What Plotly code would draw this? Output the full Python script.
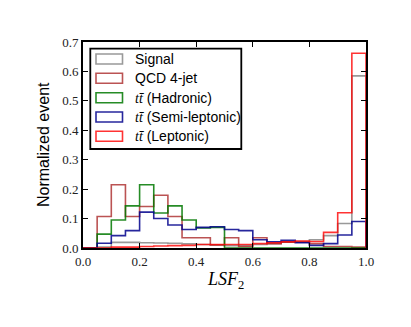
import plotly.graph_objects as go

bin_edges = [round(i * 0.05, 2) for i in range(21)]

signal = [0.0, 0.003, 0.019, 0.019, 0.018, 0.017, 0.016, 0.014, 0.012, 0.010,
          0.008, 0.008, 0.012, 0.015, 0.020, 0.022, 0.028, 0.042, 0.083, 0.585]
qcd = [0.0, 0.107, 0.215, 0.107, 0.141, 0.179, 0.107, 0.035, 0.035, 0.010,
       0.035, 0.005, 0.035, 0.015, 0.020, 0.020, 0.015, 0.005, 0.005, 0.003]
tt_had = [0.0, 0.047, 0.095, 0.143, 0.215, 0.119, 0.143, 0.095, 0.068, 0.070,
          0.0, 0.0, 0.0, 0.0, 0.0, 0.0, 0.0, 0.0, 0.0, 0.0]
tt_semi = [0.0, 0.016, 0.042, 0.059, 0.122, 0.100, 0.078, 0.063, 0.070, 0.072,
           0.063, 0.059, 0.028, 0.021, 0.026, 0.018, 0.009, 0.015, 0.044, 0.090]
tt_lep = [0.0, 0.0, 0.003, 0.003, 0.005, 0.007, 0.008, 0.009, 0.012, 0.012,
          0.012, 0.012, 0.015, 0.018, 0.021, 0.024, 0.022, 0.053, 0.120, 0.662]

TT = "<span style='font-family:Liberation Serif'><i>tt\u0304</i></span>"
names = ["Signal", "QCD 4-jet",
         TT + " (Hadronic)",
         TT + " (Semi-leptonic)",
         TT + " (Leptonic)"]
series = [signal, qcd, tt_had, tt_semi, tt_lep]
colors = ["rgba(128,128,128,0.8)", "rgba(170,40,40,0.8)", "rgba(0,120,0,0.85)",
          "rgba(0,0,140,0.85)", "rgba(255,0,0,0.8)"]

y_ticks = [round(i * 0.1, 1) for i in range(8)]
x_ticks = [round(i * 0.2, 1) for i in range(6)]

fig = go.Figure()
for vals, col, nm in zip(series, colors, names):
    xs = [bin_edges[0]] + bin_edges + [bin_edges[-1]]
    ys = [0.0] + vals + [vals[-1], 0.0]
    fig.add_trace(go.Scatter(x=xs, y=ys, mode="lines", line=dict(shape="hv", color=col, width=1.6),
                             name=nm, showlegend=False, hoverinfo="skip"))

L, R, T, B = 83, 45, 42, 79
W, H = 411, 327
pw, ph = W - L - R, H - T - B

def px_x(p):
    return (p - L) / pw

def px_y(p):
    return 1 - (p - T) / ph

# manual legend (matplotlib style boxes)
fig.add_shape(type="rect", xref="paper", yref="paper",
              x0=px_x(90.3), x1=px_x(241.3), y0=px_y(149), y1=px_y(48.7),
              line=dict(color="black", width=1.8), fillcolor="white", layer="above")
row_y = [59, 78.3, 97.7, 117, 136.3]
for nm, col, ry in zip(names, colors, row_y):
    fig.add_shape(type="rect", xref="paper", yref="paper",
                  x0=px_x(96), x1=px_x(122.5), y0=px_y(ry + 5), y1=px_y(ry - 5),
                  line=dict(color=col, width=1.6), fillcolor="white", layer="above")
    fig.add_annotation(x=px_x(132.5), y=px_y(ry), xref="paper", yref="paper", text=nm,
                       showarrow=False, xanchor="left", yanchor="middle",
                       font=dict(family="Liberation Sans, Arial", size=14, color="black"))

fig.add_annotation(x=px_x(43), y=px_y(145), xref="paper", yref="paper",
                   text="Normalized event", textangle=-90, showarrow=False,
                   xanchor="center", yanchor="middle",
                   font=dict(family="Liberation Sans, Arial", size=16, color="black"))
fig.add_annotation(x=px_x(225), y=px_y(280), xref="paper", yref="paper",
                   text="<i>LSF</i><sub>2</sub>", showarrow=False,
                   xanchor="center", yanchor="middle",
                   font=dict(family="Liberation Serif, serif", size=18, color="black"))

tickfont = dict(family="Liberation Serif, serif", size=13, color="#222")
fig.update_xaxes(range=[0, 1], tickvals=x_ticks, ticktext=[f"{v:.1f}" for v in x_ticks],
                 ticks="inside", ticklen=5, tickwidth=1, tickcolor="black",
                 showline=True, linecolor="black", linewidth=2, mirror="ticks",
                 showgrid=False, zeroline=False, tickfont=tickfont)
fig.update_yaxes(range=[0, 0.7], tickvals=y_ticks, ticktext=[f"{v:.1f}" for v in y_ticks],
                 ticks="inside", ticklen=5, tickwidth=1, tickcolor="black",
                 showline=True, linecolor="black", linewidth=2, mirror="ticks",
                 showgrid=False, zeroline=False, tickfont=tickfont)
fig.update_layout(width=W, height=H, margin=dict(l=L, r=R, t=T, b=B),
                  plot_bgcolor="white", paper_bgcolor="white", showlegend=False)
fig.write_html("out.html", config={"displayModeBar": False},
               post_script="document.body.style.margin='0';")
